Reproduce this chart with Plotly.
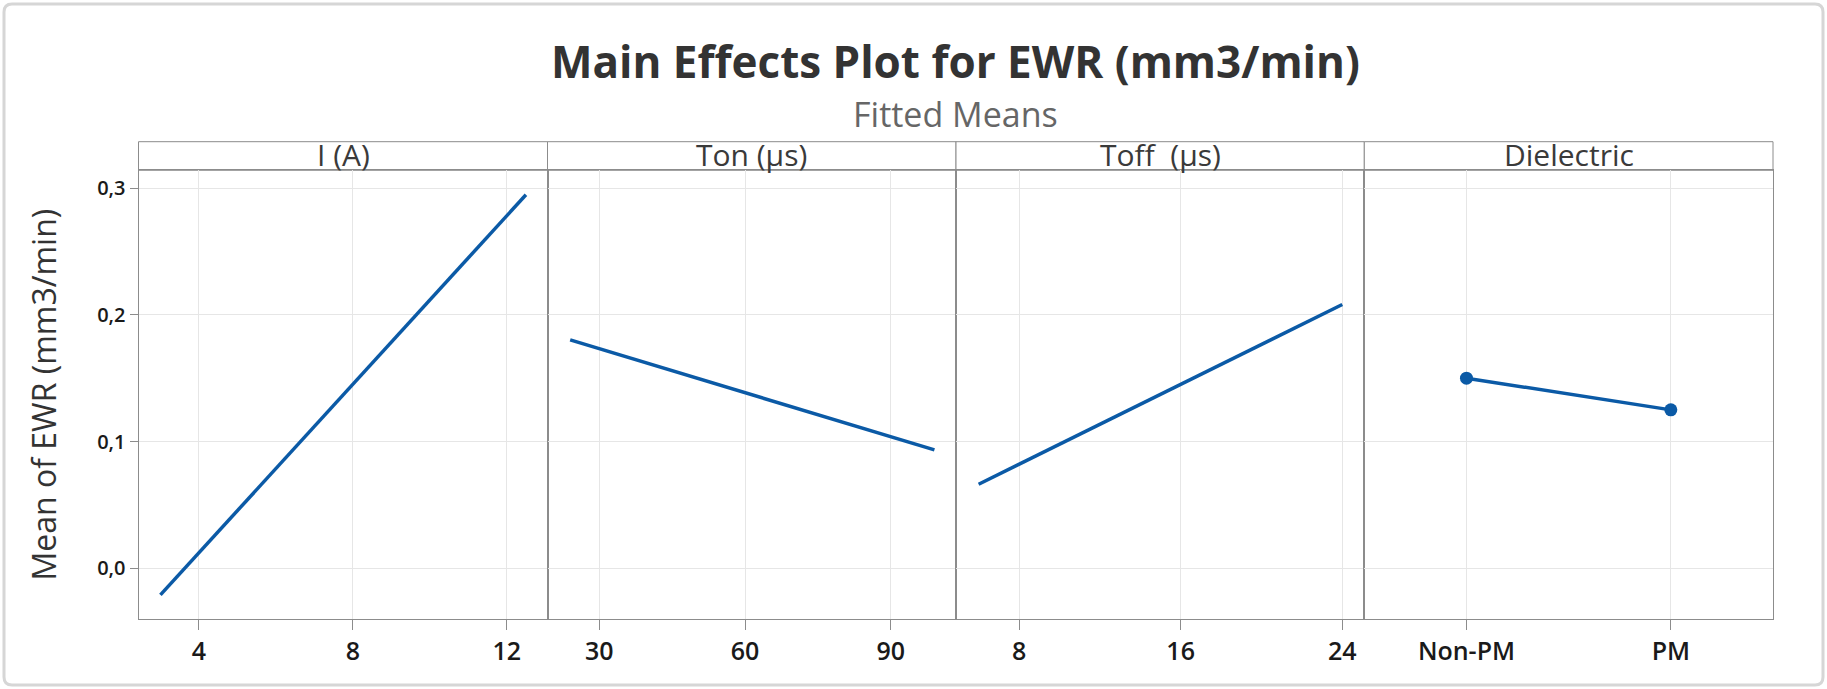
import plotly.graph_objects as go

# ---- data ----
title_text = "Main Effects Plot for EWR (mm3/min)"
subtitle_text = "Fitted Means"
y_title = "Mean of EWR (mm3/min)"
panel_names = ["I (A)", "Ton (µs)", "Toff\u00a0\u00a0(µs)", "Dielectric"]

i_levels = [3, 12.5]
i_means = [-0.021, 0.2947]
ton_levels = [24, 99]
ton_means = [0.1802, 0.0934]
toff_levels = [6, 24]
toff_means = [0.0663, 0.2081]
diel_levels = ["Non-PM", "PM"]
diel_means = [0.150, 0.125]

i_ticks = [4, 8, 12]
ton_ticks = [30, 60, 90]
toff_ticks = [8, 16, 24]
y_ticks = [0.0, 0.1, 0.2, 0.3]

# ---- layout geometry ----
W, H = 1827, 689
edges_px = [138.5, 547.5, 956.0, 1364.3, 1773.0]
doms = [[edges_px[k] / W, edges_px[k + 1] / W] for k in range(4)]
y_bot = 1 - 619 / H
y_top = 1 - 170.3 / H
hdr_top = 1 - 141.7 / H

LINE = "#0b5aa6"
GRID = "#e6e6e6"
FRAME = "#8c8c8c"
FONT = "Open Sans"

fig = go.Figure()
series = [(i_levels, i_means, False), (ton_levels, ton_means, False),
          (toff_levels, toff_means, False), (diel_levels, diel_means, True)]
for k, (xs, ys, mk) in enumerate(series):
    fig.add_trace(go.Scatter(
        x=xs, y=ys, mode="lines+markers" if mk else "lines",
        line=dict(color=LINE, width=3.5),
        marker=dict(size=13, color=LINE),
        xaxis="x" if k == 0 else f"x{k+1}",
        yaxis="y" if k == 0 else f"y{k+1}",
        showlegend=False, hoverinfo="skip"))

x_ranges = [[2.43, 13.06], [19.33, 103.44], [4.88, 25.09], [-0.5, 1.5]]
x_tickvals = [i_ticks, ton_ticks, toff_ticks, None]

layout = dict(
    width=W, height=H, margin=dict(l=0, r=0, t=0, b=0),
    paper_bgcolor="white", plot_bgcolor="white",
    separators=",.",
    font=dict(family=FONT, color="#222222"),
)
for k in range(4):
    xa = dict(domain=doms[k], anchor="y" if k == 0 else f"y{k+1}",
              range=x_ranges[k], showgrid=True, gridcolor=GRID, gridwidth=1,
              showline=True, linecolor=FRAME, linewidth=1, mirror=True,
              ticks="outside", ticklen=10, tickcolor=FRAME,
              tickfont=dict(family=FONT, size=25, color="#1a1a1a", weight=600),
              zeroline=False)
    if k < 3:
        xa["tickvals"] = x_tickvals[k]
    else:
        xa["type"] = "category"
    ya = dict(domain=[y_bot, y_top], anchor="x" if k == 0 else f"x{k+1}",
              range=[-0.040, 0.314], tickvals=y_ticks, tickformat=".1f",
              showgrid=True, gridcolor=GRID, gridwidth=1,
              showline=True, linecolor=FRAME, linewidth=1, mirror=True,
              zeroline=False)
    if k == 0:
        ya.update(ticks="outside", ticklen=8, tickcolor=FRAME,
                  tickfont=dict(family=FONT, size=20, color="#1a1a1a", weight=600),
                  title=dict(text=y_title, font=dict(family=FONT, size=32, color="#333333"),
                             standoff=30))
    else:
        ya.update(showticklabels=False, ticks="", matches="y")
    layout["xaxis" if k == 0 else f"xaxis{k+1}"] = xa
    layout["yaxis" if k == 0 else f"yaxis{k+1}"] = ya

shapes = []
annotations = []
for k in range(4):
    shapes.append(dict(type="rect", xref="paper", yref="paper",
                       x0=doms[k][0], x1=doms[k][1], y0=y_top, y1=hdr_top,
                       line=dict(color=FRAME, width=1), fillcolor="white", layer="below"))
    annotations.append(dict(text=panel_names[k], xref="paper", yref="paper",
                            x=(doms[k][0] + doms[k][1]) / 2, y=y_top,
                            xanchor="center", yanchor="bottom", yshift=-7,
                            showarrow=False,
                            font=dict(family=FONT, size=30, color="#3a3a3a")))

# outer rounded frame
r = 8
x0, x1, y0, y1 = 4, W - 4, 4, H - 4
def px(x): return x / W
def py(y): return 1 - y / H
path = (f"M {px(x0+r)},{py(y0)} L {px(x1-r)},{py(y0)} Q {px(x1)},{py(y0)} {px(x1)},{py(y0+r)} "
        f"L {px(x1)},{py(y1-r)} Q {px(x1)},{py(y1)} {px(x1-r)},{py(y1)} "
        f"L {px(x0+r)},{py(y1)} Q {px(x0)},{py(y1)} {px(x0)},{py(y1-r)} "
        f"L {px(x0)},{py(y0+r)} Q {px(x0)},{py(y0)} {px(x0+r)},{py(y0)} Z")
shapes.append(dict(type="path", xref="paper", yref="paper", path=path,
                   line=dict(color="#d6d6d6", width=3)))

cx = (edges_px[0] + edges_px[4]) / 2 / W
annotations.append(dict(text=f"<b>{title_text}</b>", xref="paper", yref="paper",
                        x=cx, y=1 - 61 / H, xanchor="center", yanchor="middle",
                        showarrow=False, font=dict(family=FONT, size=44, color="#333333")))
annotations.append(dict(text=subtitle_text, xref="paper", yref="paper",
                        x=cx, y=1 - 114 / H, xanchor="center", yanchor="middle",
                        showarrow=False, font=dict(family=FONT, size=34, color="#666666")))

layout["shapes"] = shapes
layout["annotations"] = annotations
fig.update_layout(**layout)
fig.write_html("out.html", config={"displayModeBar": False},
               post_script="document.body.style.margin='0';document.body.style.overflow='hidden';")
